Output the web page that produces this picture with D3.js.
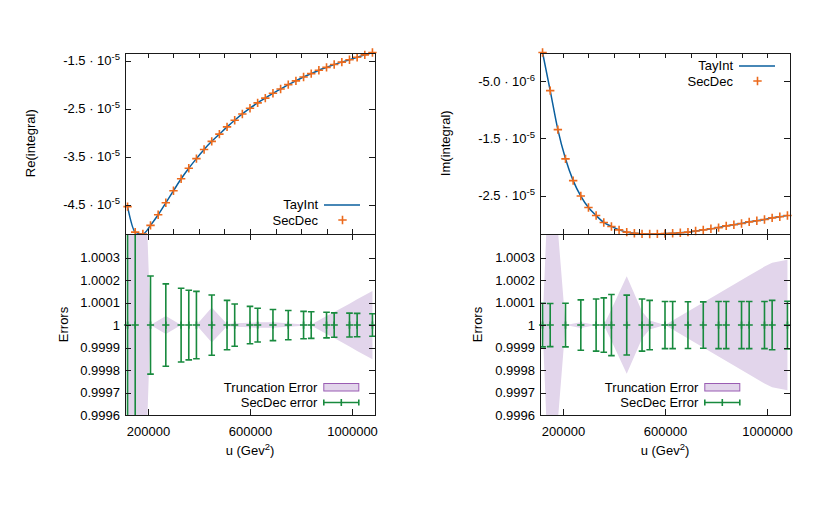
<!DOCTYPE html>
<html><head><meta charset="utf-8">
<script src="https://cdn.jsdelivr.net/npm/d3@7"></script>
<style>
body{margin:0;background:#fff}
text{font-family:"Liberation Sans",Arial,sans-serif;font-size:13px;fill:#000}
</style>
</head><body>
<svg id="c" width="830" height="519"></svg>
<script>
// ---------- data ----------
const uRange = [110000, 1090000];
const uVals = [120000,150000,180000,210000,240000,270000,300000,330000,360000,390000,420000,
  450000,480000,510000,540000,570000,600000,630000,660000,690000,720000,750000,780000,
  810000,840000,870000,900000,930000,960000,990000,1020000,1050000,1080000];
const reTayInt = [-4.54,-5.07,-5.11,-4.93,-4.71,-4.46,-4.21,-3.96,-3.74,-3.54,-3.35,-3.18,
  -3.03,-2.88,-2.74,-2.61,-2.49,-2.38,-2.28,-2.18,-2.09,-2.00,-1.92,-1.84,-1.77,-1.70,
  -1.64,-1.58,-1.53,-1.48,-1.43,-1.38,-1.33].map(v => v * 1e-5);
const reSecDec = [-4.54,-5.07,-5.11,-4.93,-4.71,-4.46,-4.21,-3.96,-3.74,-3.54,-3.35,-3.18,
  -3.03,-2.88,-2.74,-2.61,-2.49,-2.38,-2.28,-2.18,-2.09,-2.00,-1.92,-1.84,-1.77,-1.70,
  -1.64,-1.58,-1.53,-1.48,-1.43,-1.38,-1.33].map(v => v * 1e-5);
const imTayInt = [-0.004,-0.67,-1.35,-1.86,-2.24,-2.51,-2.71,-2.85,-2.97,-3.04,-3.10,-3.14,
  -3.16,-3.17,-3.172,-3.17,-3.165,-3.16,-3.15,-3.14,-3.12,-3.10,-3.08,-3.06,-3.03,-3.01,
  -2.99,-2.96,-2.94,-2.92,-2.89,-2.87,-2.85].map(v => v * 1e-5);
const imSecDec = [-0.004,-0.67,-1.35,-1.86,-2.24,-2.51,-2.71,-2.85,-2.97,-3.04,-3.10,-3.14,
  -3.16,-3.17,-3.172,-3.17,-3.165,-3.16,-3.15,-3.14,-3.12,-3.10,-3.08,-3.06,-3.03,-3.01,
  -2.99,-2.96,-2.94,-2.92,-2.89,-2.87,-2.85].map(v => v * 1e-5);

const uErr = [120000,150000,210000,270000,330000,360000,390000,450000,510000,540000,600000,
  630000,690000,750000,810000,840000,900000,930000,990000,1020000,1080000];
const reSecDecErr = [9,7,2.18,1.83,1.64,1.55,1.5,1.34,1.1,0.94,0.83,0.75,0.69,0.65,0.61,
  0.59,0.57,0.54,0.53,0.52,0.5].map(v => v * 1e-4);
const reTruncErr = [30,20,0,0.4,0,0,0,0.78,0.05,0.08,0.1,0.12,0.12,0.08,0.03,0.02,0.4,
  0.58,0.95,1.15,1.52].map(v => v * 1e-4);
const imSecDecErr = [0.97,0.96,0.97,1.12,1.16,1.21,1.36,1.33,1.16,1.1,1.05,1.05,1.04,1.03,
  1.05,1.05,1.05,1.05,1.05,1.1,1.06].map(v => v * 1e-4);
const imTruncErr = [0,8.5,0,0.13,0,0,0.7,2.17,0.6,0.2,0,0.2,0.6,1.0,1.4,1.6,2.0,2.2,2.6,
  2.77,2.9].map(v => v * 1e-4);

const xMinorTicks = [200000,300000,400000,500000,600000,700000,800000,900000,1000000];
const xLabelTicks = [200000,600000,1000000];
const reTicks = [-1.5e-5,-2.5e-5,-3.5e-5,-4.5e-5];
const imTicks = [-5e-6,-1.5e-5,-2.5e-5];
const errTicks = [0.9996,0.9997,0.9998,0.9999,1,1.0001,1.0002,1.0003];
const errRange = [0.9996, 1.000405];

// ---------- styles ----------
const COL = {line:'#0a5f9e', orange:'#ec6a1c', green:'#188a3e', band:'#e2d5eb',
  bandStroke:'#9a5db3', border:'#1a1a1a'};
const topY = [52.5, 234], botY = [234, 415];

const svg = d3.select('#c');
const defs = svg.append('defs');

function sciLabel(sel, v) {
  const parts = v.toExponential(1).split('e');
  sel.text(null);
  sel.append('tspan').text(parts[0] + ' \u00b7 10');
  sel.append('tspan').attr('dy', '-5').attr('font-size', '9.5px').text(parts[1]);
}

function drawColumn(cfg, idx) {
  const [x0, x1] = cfg.xr;
  const x = d3.scaleLinear().domain(uRange).range([x0, x1]);
  const ext = d3.extent(cfg.tay.concat(cfg.sec));
  const yT = d3.scaleLinear().domain(ext).range([topY[1], topY[0]]);
  const yB = d3.scaleLinear().domain(errRange).range([botY[1], botY[0]]);

  const cT = 'clipT' + idx, cB = 'clipB' + idx;
  defs.append('clipPath').attr('id', cT).append('rect')
    .attr('x', x0).attr('y', topY[0]).attr('width', x1 - x0).attr('height', topY[1] - topY[0]);
  defs.append('clipPath').attr('id', cB).append('rect')
    .attr('x', x0).attr('y', botY[0]).attr('width', x1 - x0).attr('height', botY[1] - botY[0]);

  const g = svg.append('g');

  // ----- top panel -----
  const line = d3.line().x((d, i) => x(uVals[i])).y(d => yT(d)).curve(d3.curveMonotoneX);
  g.append('path').attr('clip-path', `url(#${cT})`).attr('d', line(cfg.tay))
    .attr('fill', 'none').attr('stroke', COL.line).attr('stroke-width', 1.5);
  const plus = (sel, s) => sel.attr('d', d => `M${d[0]-s},${d[1]}H${d[0]+s}M${d[0]},${d[1]-s}V${d[1]+s}`);
  g.append('g').selectAll('path').data(cfg.sec.map((v, i) => [x(uVals[i]), yT(v)]))
    .join('path').call(plus, 4.2)
    .attr('stroke', COL.orange).attr('stroke-width', 1.6).attr('fill', 'none');

  // ----- bottom panel -----
  const area = d3.area().x((d, i) => x(uErr[i])).y0(d => yB(1 - d)).y1(d => yB(1 + d));
  g.append('path').attr('clip-path', `url(#${cB})`).attr('d', area(cfg.trunc))
    .attr('fill', COL.band).attr('stroke', 'none');
  const eb = g.append('g').attr('clip-path', `url(#${cB})`)
    .attr('stroke', COL.green).attr('stroke-width', 1.6).attr('fill', 'none');
  eb.selectAll('path').data(cfg.err.map((e, i) => ({xp: x(uErr[i]), lo: yB(1 - e), hi: yB(1 + e)})))
    .join('path')
    .attr('d', d => `M${d.xp},${d.lo}V${d.hi}M${d.xp-3.3},${d.lo}H${d.xp+3.3}M${d.xp-3.3},${d.hi}H${d.xp+3.3}`);
  g.append('g').selectAll('path').data(uErr.map(u => [x(u), yB(1)]))
    .join('path').call(plus, 3.6)
    .attr('stroke', COL.green).attr('stroke-width', 1.6).attr('fill', 'none');

  // ----- axes / ticks -----
  const ax = g.append('g').attr('shape-rendering', 'crispEdges');
  const aL = ax.append('g').attr('transform', `translate(${x0},0)`)
    .call(d3.axisLeft(yT).tickValues(cfg.yTicks).tickSizeInner(-6).tickSizeOuter(0).tickPadding(5));
  aL.selectAll('.tick text').each(function(d) { sciLabel(d3.select(this), d); });
  ax.append('g').attr('transform', `translate(${x1},0)`)
    .call(d3.axisRight(yT).tickValues(cfg.yTicks).tickSizeInner(-6).tickSizeOuter(0).tickFormat(''));
  ax.append('g').attr('transform', `translate(0,${topY[1]})`)
    .call(d3.axisBottom(x).tickValues(xMinorTicks).tickSizeInner(-5).tickSizeOuter(0).tickFormat(''));
  ax.append('g').attr('transform', `translate(0,${topY[0]})`)
    .call(d3.axisTop(x).tickValues(xMinorTicks).tickSizeInner(-5).tickSizeOuter(0).tickFormat(''));
  ax.append('g').attr('transform', `translate(${x0},0)`)
    .call(d3.axisLeft(yB).tickValues(errTicks).tickSizeInner(-6).tickSizeOuter(0).tickPadding(5)
      .tickFormat(d => d === 1 ? '1' : d3.format('.4f')(d)));
  ax.append('g').attr('transform', `translate(${x1},0)`)
    .call(d3.axisRight(yB).tickValues(errTicks).tickSizeInner(-6).tickSizeOuter(0).tickFormat(''));
  ax.append('g').attr('transform', `translate(0,${botY[1]})`)
    .call(d3.axisBottom(x).tickValues(xLabelTicks).tickSizeInner(-6).tickSizeOuter(0).tickPadding(12)
      .tickFormat(d3.format('d')));
  ax.append('g').attr('transform', `translate(0,${botY[0]})`)
    .call(d3.axisTop(x).tickValues(xLabelTicks).tickSizeInner(-6).tickSizeOuter(0).tickFormat(''));
  ax.selectAll('.domain').remove();
  ax.selectAll('.tick line').attr('stroke', COL.border);
  ax.selectAll('.tick text').attr('font-size', '13px').attr('font-family', '"Liberation Sans",Arial,sans-serif').attr('fill', '#000');

  // borders
  g.append('rect').attr('x', x0 + 0.5).attr('y', topY[0] + 0.5).attr('width', x1 - x0)
    .attr('height', topY[1] - topY[0]).attr('fill', 'none').attr('stroke', COL.border).attr('shape-rendering', 'crispEdges');
  g.append('rect').attr('x', x0 + 0.5).attr('y', botY[0] + 0.5).attr('width', x1 - x0)
    .attr('height', botY[1] - botY[0]).attr('fill', 'none').attr('stroke', COL.border).attr('shape-rendering', 'crispEdges');

  // axis titles (x = baseline position of the rotated text)
  g.append('text').attr('transform', `translate(${cfg.ylabX},${(topY[0]+topY[1])/2}) rotate(-90)`)
    .attr('text-anchor', 'middle').text(cfg.ylabel);
  g.append('text').attr('transform', `translate(${cfg.errLabX},${(botY[0]+botY[1])/2}) rotate(-90)`)
    .attr('text-anchor', 'middle').text('Errors');
  const xl = g.append('text').attr('x', (x0 + x1) / 2).attr('y', 455).attr('text-anchor', 'middle');
  xl.append('tspan').text('u (Gev');
  xl.append('tspan').attr('dy', -5).attr('font-size', '9.5px').text('2');
  xl.append('tspan').attr('dy', 5).text(')');

  // legends top
  const lt = cfg.legTop;
  g.append('text').attr('x', x1 - 57).attr('y', lt[0]).attr('dy', '0.35em').attr('text-anchor', 'end').text('TayInt');
  g.append('line').attr('x1', x1 - 51).attr('x2', x1 - 15).attr('y1', lt[0] + 0.5).attr('y2', lt[0] + 0.5)
    .attr('stroke', COL.line).attr('stroke-width', 1.5);
  g.append('text').attr('x', x1 - 57).attr('y', lt[1]).attr('dy', '0.35em').attr('text-anchor', 'end').text('SecDec');
  g.append('path').datum([x1 - 32.5, lt[1]]).call(plus, 4.2)
    .attr('stroke', COL.orange).attr('stroke-width', 1.6);

  // legends bottom
  const lb = cfg.legBotX;
  g.append('text').attr('x', x1 - lb).attr('y', 387).attr('dy', '0.35em').attr('text-anchor', 'end').text('Truncation Error');
  g.append('rect').attr('x', x1 - lb + 6.5).attr('y', 383.5).attr('width', 35).attr('height', 7.5)
    .attr('fill', COL.band).attr('stroke', COL.bandStroke).attr('stroke-width', 1);
  g.append('text').attr('x', x1 - lb).attr('y', 402.5).attr('dy', '0.35em').attr('text-anchor', 'end').text(cfg.errLabel);
  const sx0 = x1 - lb + 6.5, sx1 = sx0 + 35, sy = 402.5, sm = (sx0 + sx1) / 2;
  g.append('path').attr('d', `M${sx0},${sy}H${sx1}M${sx0},${sy-3}V${sy+3}M${sx1},${sy-3}V${sy+3}M${sm},${sy-3.5}V${sy+3.5}`)
    .attr('stroke', COL.green).attr('stroke-width', 1.6).attr('fill', 'none');
}

drawColumn({xr: [125, 375], tay: reTayInt, sec: reSecDec, yTicks: reTicks, ylabel: 'Re(integral)',
  ylabX: 35, errLabX: 67.5, legTop: [204.5, 220], legBotX: 57.7, err: reSecDecErr, trunc: reTruncErr,
  errLabel: 'SecDec error'}, 0);
drawColumn({xr: [540, 790], tay: imTayInt, sec: imSecDec, yTicks: imTicks, ylabel: 'Im(integral)',
  ylabX: 450, errLabX: 482, legTop: [65.5, 81], legBotX: 91.7, err: imSecDecErr, trunc: imTruncErr,
  errLabel: 'SecDec Error'}, 1);
</script>
</body></html>
